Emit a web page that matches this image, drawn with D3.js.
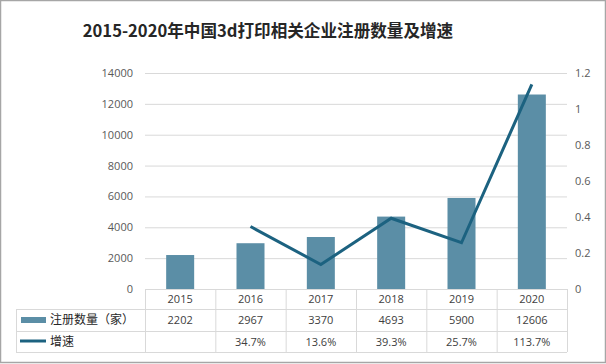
<!DOCTYPE html>
<html><head><meta charset="utf-8">
<script src="https://cdn.jsdelivr.net/npm/d3@7"></script>
<style>html,body{margin:0;padding:0;background:#fff;}svg{display:block;font-family:"Noto Sans CJK SC","Noto Sans",sans-serif;}</style>
</head><body><svg id="c" width="606" height="364"></svg>
<script>
const years = ["2015","2016","2017","2018","2019","2020"];
const counts = [2202, 2967, 3370, 4693, 5900, 12606];
const countLabels = ["2202","2967","3370","4693","5900","12606"];
const growth = [null, 0.347, 0.136, 0.393, 0.257, 1.137];
const growthLabels = ["", "34.7%", "13.6%", "39.3%", "25.7%", "113.7%"];
const leftTicks = [0,2000,4000,6000,8000,10000,12000,14000];
const rightTicks = [0,0.2,0.4,0.6,0.8,1,1.2];
const seriesNames = ["注册数量（家）","增速"];
const title = "2015-2020年中国3d打印相关企业注册数量及增速";

const barColor = "#5b8ea6", lineColor = "#1c6280", gridColor = "#d9d9d9", textColor = "#595959";
const svg = d3.select("#c");
const L = 145, R = 567, T = 73, B = 289;
const x = d3.scaleBand().domain(years).range([L, R]).paddingInner(0).paddingOuter(0);
const yL = d3.scaleLinear().domain([0,14000]).range([B, T]);
const yR = d3.scaleLinear().domain([0,1.2]).range([B, T]);

// frame
svg.append("rect").attr("x",0.5).attr("y",0.5).attr("width",605).attr("height",362)
  .attr("fill","none").attr("stroke","#a6a6a6").attr("stroke-width",1.5);

svg.append("text").attr("x",268).attr("y",37).attr("text-anchor","middle")
  .attr("font-size",16.6).attr("font-weight","bold").attr("fill","#262626").text(title);

// gridlines
svg.append("g").selectAll("line").data(leftTicks.filter(d=>d>0)).join("line")
  .attr("x1",L).attr("x2",R).attr("y1",d=>yL(d)+0.5).attr("y2",d=>yL(d)+0.5)
  .attr("stroke",gridColor).attr("stroke-width",1);

// left axis
const gl = svg.append("g").attr("transform",`translate(${L-10},0)`)
  .call(d3.axisLeft(yL).tickValues(leftTicks).tickSize(0).tickPadding(2).tickFormat(d3.format("d")));
gl.select(".domain").remove();
gl.selectAll("text").attr("font-size",11).attr("fill",textColor).attr("font-family","'Open Sans','Noto Sans',sans-serif");

// right axis
const gr = svg.append("g").attr("transform",`translate(${R+6},0)`)
  .call(d3.axisRight(yR).tickValues(rightTicks).tickSize(0).tickPadding(2).tickFormat(d=>String(+d.toFixed(1))));
gr.select(".domain").remove();
gr.selectAll("text").attr("font-size",11).attr("fill",textColor).attr("font-family","'Open Sans','Noto Sans',sans-serif");

// bars
const bw = 28;
svg.append("g").selectAll("rect").data(counts).join("rect")
  .attr("x",(d,i)=>x(years[i])+x.bandwidth()/2-bw/2).attr("width",bw)
  .attr("y",d=>yL(d)).attr("height",d=>B-yL(d)).attr("fill",barColor);

// line
const lineData = growth.map((g,i)=>({g, i})).filter(d=>d.g!==null);
svg.append("path").datum(lineData)
  .attr("d", d3.line().x(d=>x(years[d.i])+x.bandwidth()/2).y(d=>yR(d.g)))
  .attr("fill","none").attr("stroke",lineColor).attr("stroke-width",3).attr("stroke-linejoin","miter");

// table
const tbl = svg.append("g");
const tcol = "#d9d9d9";
tbl.append("line").attr("x1",L).attr("x2",R).attr("y1",289.5).attr("y2",289.5).attr("stroke",tcol);
[309,331,352].forEach(y=>tbl.append("line").attr("x1",16).attr("x2",R).attr("y1",y+0.5).attr("y2",y+0.5).attr("stroke",tcol));
const vx = years.map(y=>x(y)).concat([R]);
vx.forEach(v=>tbl.append("line").attr("x1",v+0.5).attr("x2",v+0.5).attr("y1",289).attr("y2",352).attr("stroke",tcol));
tbl.append("line").attr("x1",16.5).attr("x2",16.5).attr("y1",309).attr("y2",352).attr("stroke",tcol);

const tf = "'Open Sans','Noto Sans',sans-serif";
tbl.selectAll(".yr").data(years).join("text").attr("class","yr")
  .attr("x",d=>x(d)+x.bandwidth()/2).attr("y",303).attr("text-anchor","middle")
  .attr("font-size",11).attr("fill","#404040").attr("font-family",tf).text(d=>d);
tbl.selectAll(".cv").data(countLabels).join("text").attr("class","cv")
  .attr("x",(d,i)=>x(years[i])+x.bandwidth()/2).attr("y",324).attr("text-anchor","middle")
  .attr("font-size",11).attr("fill","#404040").attr("font-family",tf).text(d=>d);
tbl.selectAll(".gv").data(growthLabels).join("text").attr("class","gv")
  .attr("x",(d,i)=>x(years[i])+x.bandwidth()/2).attr("y",346).attr("text-anchor","middle")
  .attr("font-size",11).attr("fill","#404040").attr("font-family",tf).text(d=>d);

tbl.append("rect").attr("x",21).attr("y",317).attr("width",25).attr("height",6).attr("fill",barColor);
tbl.append("line").attr("x1",20).attr("x2",46).attr("y1",341).attr("y2",341).attr("stroke",lineColor).attr("stroke-width",3);
tbl.append("text").attr("x",50).attr("y",324).attr("font-size",12).attr("fill","#262626").text(seriesNames[0]);
tbl.append("text").attr("x",50).attr("y",346).attr("font-size",12).attr("fill","#262626").text(seriesNames[1]);
</script></body></html>
